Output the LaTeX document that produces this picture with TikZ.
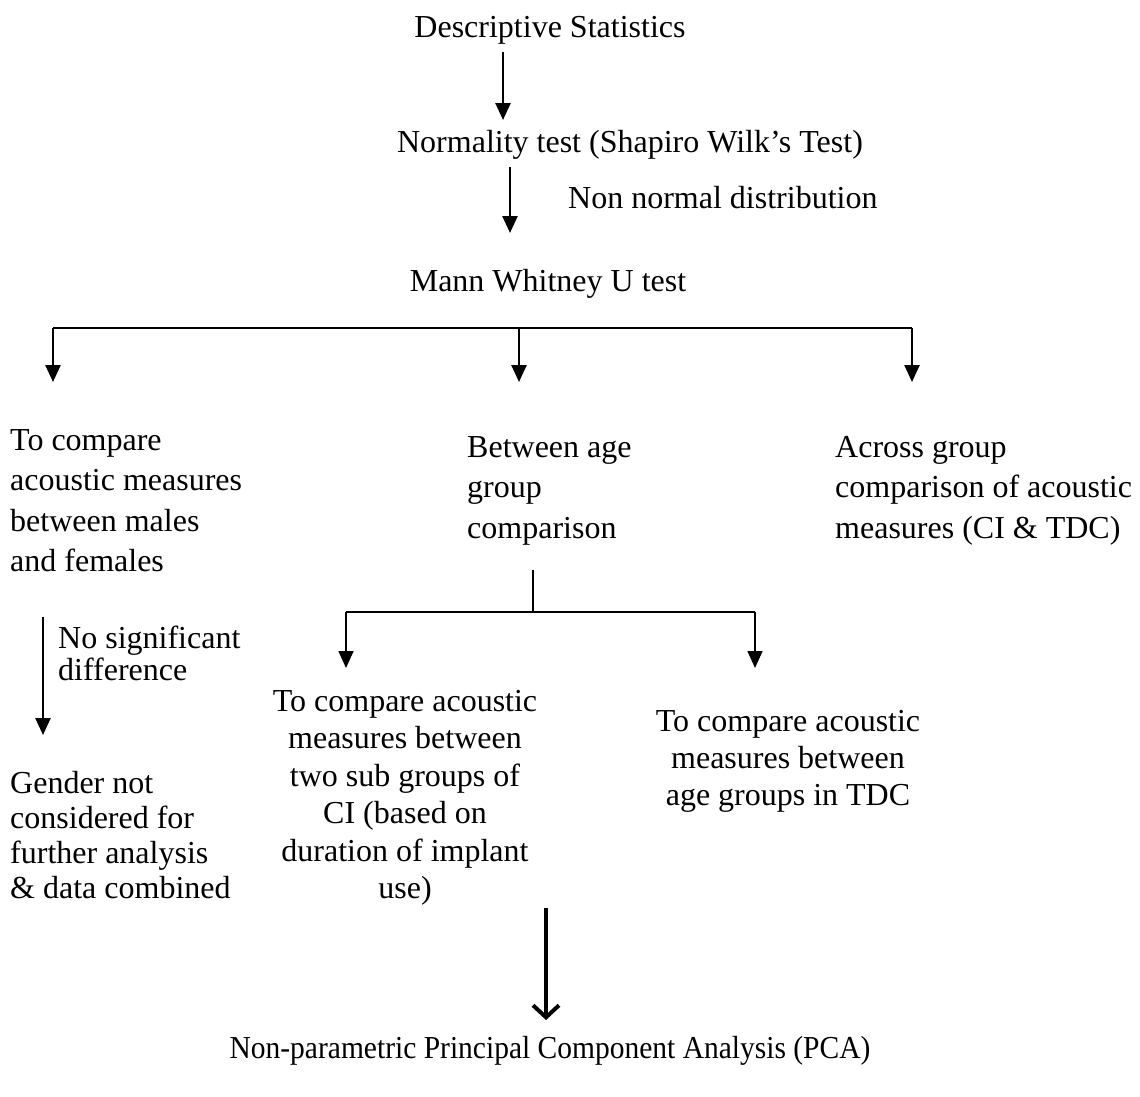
\documentclass[tikz,border=0pt]{standalone}
\usepackage{fontspec}
\usepackage{graphicx}
\setmainfont{Liberation Serif}
\usetikzlibrary{arrows.meta}
\begin{document}
\begin{tikzpicture}[x=1pt,y=-1pt,
  txt/.style={inner sep=0pt,font=\fontsize{32}{40}\selectfont},
  arr/.style={line width=2.5pt,-{Triangle[length=17pt,width=15pt]}},
  thinarr/.style={line width=1.6pt,-{Triangle[length=17pt,width=15pt]}},
  ln/.style={line width=2.5pt},
  thinln/.style={line width=1.6pt},
  bigarr/.style={line width=4pt,-{Straight Barb[length=12pt,width=26pt,line width=4pt]}}]
\useasboundingbox[fill=white] (0,0) rectangle (1140,1096);

% texts
\node[txt,anchor=base] (desc) at (550,37) {Descriptive Statistics};
\node[txt,anchor=base] (norm) at (630,152) {Normality test (Shapiro Wilk’s Test)};
\node[txt,anchor=base west] (nonnorm) at (568,208) {Non normal distribution};
\node[txt,anchor=base] (mann) at (548,291) {Mann Whitney U test};

\node[txt,anchor=north west,align=left,font=\fontsize{32}{40.5}\selectfont] (gender) at (10,429)
  {To compare\\acoustic measures\\between males\\and females};
\node[txt,anchor=north west,align=left,font=\fontsize{32}{40.5}\selectfont] (age) at (467,436)
  {Between age\\group\\comparison};
\node[txt,anchor=north west,align=left,font=\fontsize{32}{40.5}\selectfont] (across) at (835,436)
  {Across group\\comparison of acoustic\\measures (CI \& TDC)};

\node[txt,anchor=north west,align=left,font=\fontsize{32}{32}\selectfont] (nosig) at (58,626)
  {No significant\\difference};
\node[txt,anchor=north west,align=left,font=\fontsize{32}{35}\selectfont] (notcons) at (10,771)
  {Gender not\\considered for\\further analysis\\\& data combined};
\node[txt,anchor=north,align=center,font=\fontsize{32}{37.4}\selectfont] (ci) at (405,690)
  {To compare acoustic\\measures between\\two sub groups of\\CI (based on\\duration of implant\\use)};
\node[txt,anchor=north,align=center,font=\fontsize{32}{37}\selectfont] (tdc) at (788,710)
  {To compare acoustic\\measures between\\age groups in TDC};
\node[txt,anchor=base] (pca) at (550,1058) {\scalebox{0.922}[1]{Non-parametric Principal Component Analysis (PCA)}};

% connector coordinates
\coordinate (a1s) at (503,52);
\coordinate (a1e) at (503,120);
\coordinate (a2s) at (510,167);
\coordinate (a2e) at (510,233);
\coordinate (bL) at (53,328);
\coordinate (bM) at (519,328);
\coordinate (bR) at (912,328);
\coordinate (tL) at (53,382);
\coordinate (tM) at (519,382);
\coordinate (tR) at (912,382);
\coordinate (ns) at (43,617);
\coordinate (ne) at (43,735);
\coordinate (sTop) at (533,570);
\coordinate (sMid) at (533,612);
\coordinate (sL) at (346,612);
\coordinate (sR) at (755,612);
\coordinate (sLe) at (346,668);
\coordinate (sRe) at (755,668);
\coordinate (ps) at (546,908);
\coordinate (pe) at (546,1020);

% connectors
\draw[arr] (a1s) -- (a1e);
\draw[arr] (a2s) -- (a2e);
\draw[ln] (bL) -- (bR);
\draw[arr] (bL) -- (tL);
\draw[arr] (bM) -- (tM);
\draw[arr] (bR) -- (tR);
\draw[arr] (ns) -- (ne);
\draw[thinln] (sTop) -- (sMid);
\draw[thinln] (sL) -- (sR);
\draw[thinarr] (sL) -- (sLe);
\draw[thinarr] (sR) -- (sRe);
\draw[bigarr] (ps) -- (pe);
\end{tikzpicture}
\end{document}
